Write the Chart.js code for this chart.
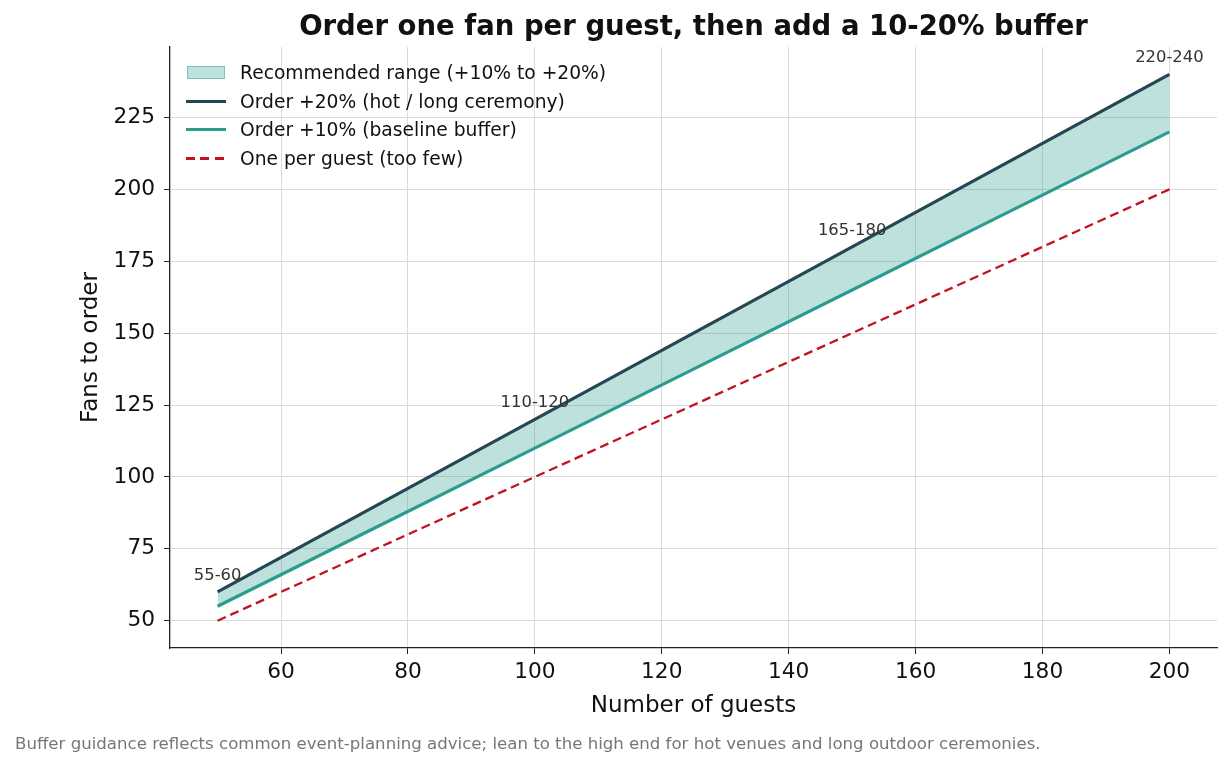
<!DOCTYPE html>
<html>
<head>
<meta charset="utf-8">
<script src="https://cdn.jsdelivr.net/npm/chart.js@4"></script>
<style>
  body { margin: 0; background: #fff; font-family: 'DejaVu Sans', sans-serif; }
  #wrap { position: relative; width: 1231px; height: 768px; }
  #legend { position: absolute; left: 186px; top: 58px; font-size: 18.7px; color: #111; }
  .item { height: 28.7px; display: flex; align-items: center; }
  .handle { width: 40px; margin-right: 14px; display: flex; align-items: center; justify-content: center; }
  #footer { position: absolute; left: 15px; top: 734px; font-size: 16.6px; color: #777; white-space: nowrap; }
</style>
</head>
<body>
<div id="wrap">
  <canvas id="myChart" width="1231" height="768"></canvas>
  <div id="legend"></div>
  <div id="footer">Buffer guidance reflects common event-planning advice; lean to the high end for hot venues and long outdoor ceremonies.</div>
</div>
<script>
// values
const guests = [50, 75, 100, 125, 150, 175, 200]
const one_per_guest = [50, 75, 100, 125, 150, 175, 200]
const plus_10 = [55, 82.5, 110, 137.5, 165, 192.5, 220]
const plus_20 = [60, 90, 120, 150, 180, 210, 240]

const note_guests = [50, 100, 150, 200]
const note_tops = [60, 120, 180, 240]
const note_labels = ['55-60', '110-120', '165-180', '220-240']

const x_ticks = [60, 80, 100, 120, 140, 160, 180, 200]
const y_ticks = [50, 75, 100, 125, 150, 175, 200, 225]

const dark = '#264653'
const teal = '#2a9d8f'
const red = '#c1121f'
const band = 'rgba(42,157,143,0.3)'

function pts(ys) {
    return guests.map((g, i) => ({x: g, y: ys[i]}))
}

// range labels above the upper line
const notes_plugin = {
    id: 'notes',
    afterDatasetsDraw(chart) {
        const ctx = chart.ctx
        const xs = chart.scales.x
        const ys = chart.scales.y
        ctx.save()
        ctx.font = '16.4px "DejaVu Sans"'
        ctx.fillStyle = '#333'
        ctx.textAlign = 'center'
        ctx.textBaseline = 'bottom'
        note_labels.forEach((lab, i) => {
            ctx.fillText(lab, xs.getPixelForValue(note_guests[i]), ys.getPixelForValue(note_tops[i]) - 8)
        })
        ctx.restore()
    }
}

new Chart(document.getElementById('myChart'), {
    type: 'line',
    data: {
        datasets: [{
            label: 'Order +20% (hot / long ceremony)',
            data: pts(plus_20),
            borderColor: dark,
            backgroundColor: band,
            borderWidth: 3.2,
            fill: '+1',
            order: 2
        }, {
            label: 'Order +10% (baseline buffer)',
            data: pts(plus_10),
            borderColor: teal,
            borderWidth: 3.2,
            fill: false,
            order: 3
        }, {
            label: 'One per guest (too few)',
            data: pts(one_per_guest),
            borderColor: red,
            borderWidth: 2.3,
            borderDash: [9, 5],
            fill: false,
            order: 4
        }]
    },
    options: {
        responsive: false,
        animation: false,
        devicePixelRatio: 1,
        layout: { padding: { left: 0, right: 14, top: 0, bottom: 40 } },
        elements: { point: { radius: 0 }, line: { tension: 0 } },
        scales: {
            x: {
                type: 'linear',
                min: 42.5,
                max: 207.5,
                afterBuildTicks: (s) => { s.ticks = x_ticks.map(v => ({value: v})) },
                afterFit: (s) => { s.height = 80 },
                grid: { color: '#dadada', tickColor: '#222', tickLength: 6, lineWidth: 1 },
                border: { color: '#222', width: 1.3 },
                ticks: { color: '#111', font: { family: 'DejaVu Sans', size: 21.7 }, padding: 5, maxRotation: 0 },
                title: { display: true, text: 'Number of guests', color: '#111',
                         font: { family: 'DejaVu Sans', size: 23 }, padding: { top: 0, bottom: 8 } }
            },
            y: {
                min: 40.5,
                max: 249.5,
                afterBuildTicks: (s) => { s.ticks = y_ticks.map(v => ({value: v})) },
                afterFit: (s) => { s.width = 170 },
                grid: { color: '#dadada', tickColor: '#222', tickLength: 6, lineWidth: 1 },
                border: { color: '#222', width: 1.3 },
                ticks: { color: '#111', font: { family: 'DejaVu Sans', size: 21.7 }, padding: 9 },
                title: { display: true, text: 'Fans to order', color: '#111',
                         font: { family: 'DejaVu Sans', size: 23 }, padding: { top: 77, bottom: 0 } }
            }
        },
        plugins: {
            legend: { display: false },
            tooltip: { enabled: false },
            title: {
                display: true,
                fullSize: false,
                text: 'Order one fan per guest, then add a 10-20% buffer',
                color: '#111',
                font: { family: 'DejaVu Sans', size: 27.5, weight: 'bold' },
                padding: { top: 11, bottom: 3 }
            }
        }
    },
    plugins: [notes_plugin]
})

// legend inside the plot, top-left
const legend_items = [
    { text: 'Recommended range (+10% to +20%)', kind: 'box' },
    { text: 'Order +20% (hot / long ceremony)', kind: 'line', color: dark },
    { text: 'Order +10% (baseline buffer)', kind: 'line', color: teal },
    { text: 'One per guest (too few)', kind: 'dash', color: red }
]
const legend_div = document.getElementById('legend')
legend_items.forEach(item => {
    const row = document.createElement('div')
    row.className = 'item'
    const h = document.createElement('div')
    h.className = 'handle'
    const mark = document.createElement('div')
    if (item.kind == 'box') {
        mark.style.cssText = 'width:36px;height:11px;background:' + band + ';border:1px solid rgba(42,157,143,0.45)'
    } else if (item.kind == 'line') {
        mark.style.cssText = 'width:40px;height:3px;background:' + item.color
    } else {
        mark.style.cssText = 'width:40px;height:2.4px;background:repeating-linear-gradient(to right,' +
            item.color + ' 0 9px, transparent 9px 14.5px)'
    }
    h.append(mark)
    const t = document.createElement('span')
    t.innerText = item.text
    row.append(h, t)
    legend_div.append(row)
})
</script>
</body>
</html>
